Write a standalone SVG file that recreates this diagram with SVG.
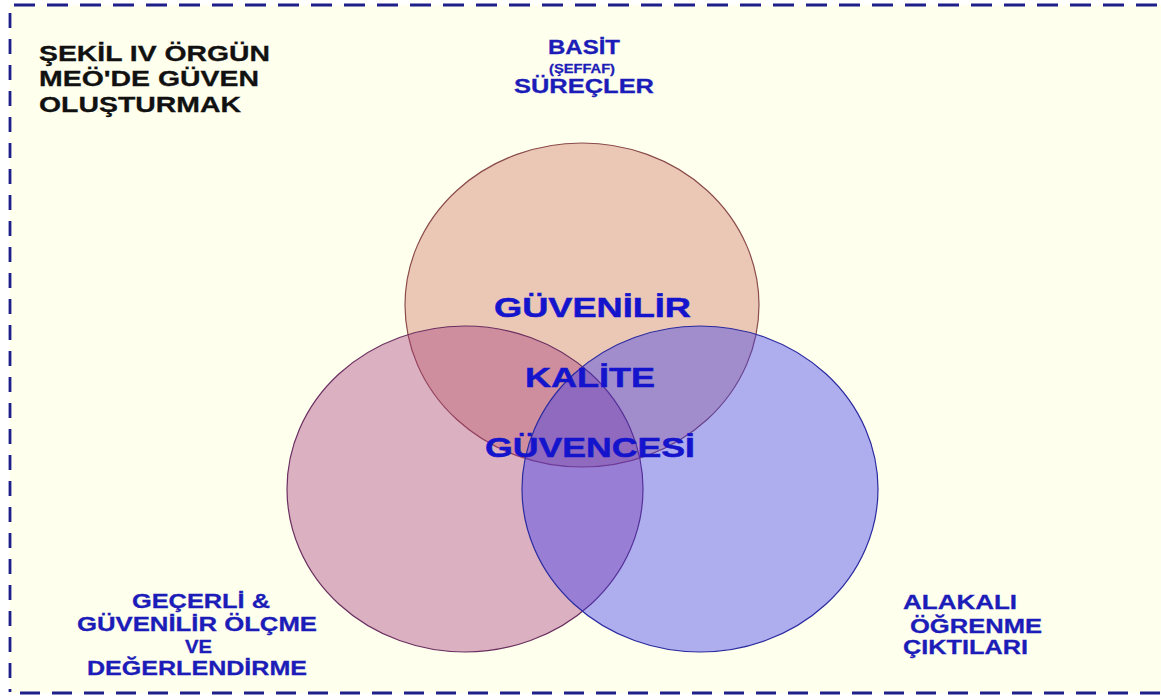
<svg xmlns="http://www.w3.org/2000/svg" width="1161" height="697" viewBox="0 0 1161 697">
<style>
text{font-family:"Liberation Sans",Arial,sans-serif;font-weight:bold;}
.title{font-size:22px;fill:#111111;stroke:#111111;stroke-width:0.3;}
.lbl{font-size:20px;fill:#1c1cb8;stroke:#1c1cb8;stroke-width:0.3;}
.ctr{font-size:28px;fill:#1414cc;stroke:#1414cc;stroke-width:0.5;}
.bord{stroke:#1f1f8a;stroke-width:2.8;fill:none;}
</style>
<rect x="0" y="0" width="1161" height="697" fill="#ffffff"/>
<rect x="10" y="5" width="1151" height="688" fill="#ffffee"/>
<g id="border">
<line class="bord" x1="14" y1="5" x2="1161" y2="5" stroke-dasharray="21 12"/>
<line class="bord" x1="10" y1="13" x2="10" y2="692" stroke-dasharray="15 11"/>
<line class="bord" x1="20" y1="693" x2="1161" y2="693" stroke-dasharray="20 12"/>
</g>
<g id="title">
<text class="title" x="39" y="61" textLength="231" lengthAdjust="spacingAndGlyphs">ŞEKİL IV ÖRGÜN</text>
<text class="title" x="39" y="86" textLength="220" lengthAdjust="spacingAndGlyphs">MEÖ'DE GÜVEN</text>
<text class="title" x="39" y="112" textLength="202" lengthAdjust="spacingAndGlyphs">OLUŞTURMAK</text>
</g>
<g id="circle-top">
<ellipse cx="582" cy="305" rx="177" ry="162" fill="#ebc8b5" stroke="#8a4b4b" stroke-width="1.2"/>
</g>
<g id="circle-left">
<ellipse cx="465" cy="489" rx="178" ry="163" fill="#a0307a" fill-opacity="0.38" stroke="#6a2f60" stroke-width="1.2"/>
</g>
<g id="circle-right">
<ellipse cx="700" cy="489" rx="178" ry="163" fill="#3535f0" fill-opacity="0.4" stroke="#2a2aa0" stroke-width="1.2"/>
</g>
<g id="label-top">
<text class="lbl" x="548" y="54" textLength="72" lengthAdjust="spacingAndGlyphs">BASİT</text>
<text class="lbl" x="549" y="73" style="font-size:13px" textLength="66" lengthAdjust="spacingAndGlyphs">(ŞEFFAF)</text>
<text class="lbl" x="514" y="93" textLength="140" lengthAdjust="spacingAndGlyphs">SÜREÇLER</text>
</g>
<g id="label-center">
<text class="ctr" x="494" y="317" textLength="197" lengthAdjust="spacingAndGlyphs">GÜVENİLİR</text>
<text class="ctr" x="525" y="387" textLength="130" lengthAdjust="spacingAndGlyphs">KALİTE</text>
<text class="ctr" x="485" y="457" textLength="210" lengthAdjust="spacingAndGlyphs">GÜVENCESİ</text>
</g>
<g id="label-left">
<text class="lbl" x="132" y="608" textLength="138" lengthAdjust="spacingAndGlyphs">GEÇERLİ &amp;</text>
<text class="lbl" x="77" y="631" textLength="240" lengthAdjust="spacingAndGlyphs">GÜVENİLİR ÖLÇME</text>
<text class="lbl" x="185" y="653" style="font-size:18px" textLength="27" lengthAdjust="spacingAndGlyphs">VE</text>
<text class="lbl" x="87" y="675" textLength="220" lengthAdjust="spacingAndGlyphs">DEĞERLENDİRME</text>
</g>
<g id="label-right">
<text class="lbl" x="903" y="609" textLength="114" lengthAdjust="spacingAndGlyphs">ALAKALI</text>
<text class="lbl" x="910" y="633" textLength="132" lengthAdjust="spacingAndGlyphs">ÖĞRENME</text>
<text class="lbl" x="903" y="654" textLength="125" lengthAdjust="spacingAndGlyphs">ÇIKTILARI</text>
</g>
<g id="connectors"></g>
</svg>
